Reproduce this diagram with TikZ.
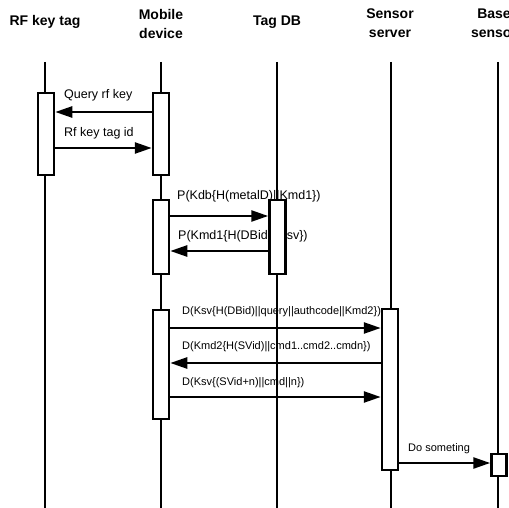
\documentclass[tikz,border=0pt]{standalone}
\usepackage{fontspec}
\setmainfont{Liberation Sans}
\usetikzlibrary{arrows.meta}
\begin{document}
\begin{tikzpicture}[x=1pt,y=-1pt,
  header/.style={font=\bfseries\fontsize{14}{19}\selectfont, align=center, inner sep=0pt},
  lifeline/.style={line width=2.5pt},
  actbox/.style={draw, fill=white, line width=2.5pt, minimum width=16pt, inner sep=0pt},
  msg/.style={line width=2.5pt, -{Triangle[length=17pt,width=11pt]}},
  lbl/.style={anchor=west, inner sep=0pt, font=\fontsize{12.5}{14}\selectfont},
  lbls/.style={anchor=west, inner sep=0pt, font=\fontsize{11}{13}\selectfont}]
\useasboundingbox (0,0) rectangle (509,508);
\fill[white] (0,0) rectangle (509,508);
% headers
\node[header] (hrf) at (45,22) {RF key tag};
\node[header] (hmd) at (161,23.5) {Mobile\\device};
\node[header] (hdb) at (277,22) {Tag DB};
\node[header] (hss) at (390,23.5) {Sensor\\server};
\node[header] (hbs) at (494,23.5) {Base\\sensor};
% lifeline ends
\coordinate (trf) at (45,62);  \coordinate (brf) at (45,510);
\coordinate (tmd) at (161,62); \coordinate (bmd) at (161,510);
\coordinate (tdb) at (277,62); \coordinate (bdb) at (277,510);
\coordinate (tss) at (391,62); \coordinate (bss) at (391,510);
\coordinate (tbs) at (498,62); \coordinate (bbs) at (498,510);
% labels
\node[lbl] (l1) at (64,95) {Query rf key};
\node[lbl] (l2) at (64,133) {Rf key tag id};
\node[lbl] (l3) at (177,196) {P(Kdb\{H(metalD)||Kmd1\})};
\node[lbl] (l4) at (178,236) {P(Kmd1\{H(DBid)||Ksv\})};
\node[lbls] (l5) at (182,312) {D(Ksv\{H(DBid)||query||authcode||Kmd2\})};
\node[lbls] (l6) at (182,347) {D(Kmd2\{H(SVid)||cmd1..cmd2..cmdn\})};
\node[lbls] (l7) at (182,383) {D(Ksv\{(SVid+n)||cmd||n\})};
\node[lbls] (l8) at (408,449) {Do someting};
% lifelines
\draw[lifeline] (trf) -- (brf);
\draw[lifeline] (tmd) -- (bmd);
\draw[lifeline] (tdb) -- (bdb);
\draw[lifeline] (tss) -- (bss);
\draw[lifeline] (tbs) -- (bbs);
% activation boxes
\node[actbox, minimum height=82pt] (rf1) at (46,134) {};
\node[actbox, minimum height=82pt] (mb1) at (161,134) {};
\node[actbox, minimum height=74pt] (mb2) at (161,237) {};
\node[actbox, minimum height=74pt] (db1) at (277.5,237) {};
\node[actbox, minimum height=109pt] (mb3) at (161,364.5) {};
\node[actbox, minimum height=161pt] (ss1) at (390,389.5) {};
\node[actbox, minimum height=22pt, minimum width=15pt] (bs1) at (499,465) {};
% message rows
\coordinate (m1) at (0,112);
\coordinate (m2) at (0,148);
\coordinate (m3) at (0,216);
\coordinate (m4) at (0,251);
\coordinate (m5) at (0,328);
\coordinate (m6) at (0,363);
\coordinate (m7) at (0,397);
\coordinate (m8) at (0,463);
\draw[msg] (mb1.west |- m1) -- (rf1.east |- m1);
\draw[msg] (rf1.east |- m2) -- (mb1.west |- m2);
\draw[msg] (mb2.east |- m3) -- (db1.west |- m3);
\draw[msg] (db1.west |- m4) -- (mb2.east |- m4);
\draw[msg] (mb3.east |- m5) -- (ss1.west |- m5);
\draw[msg] (ss1.west |- m6) -- (mb3.east |- m6);
\draw[msg] (mb3.east |- m7) -- (ss1.west |- m7);
\draw[msg] (ss1.east |- m8) -- (bs1.west |- m8);
\end{tikzpicture}
\end{document}
